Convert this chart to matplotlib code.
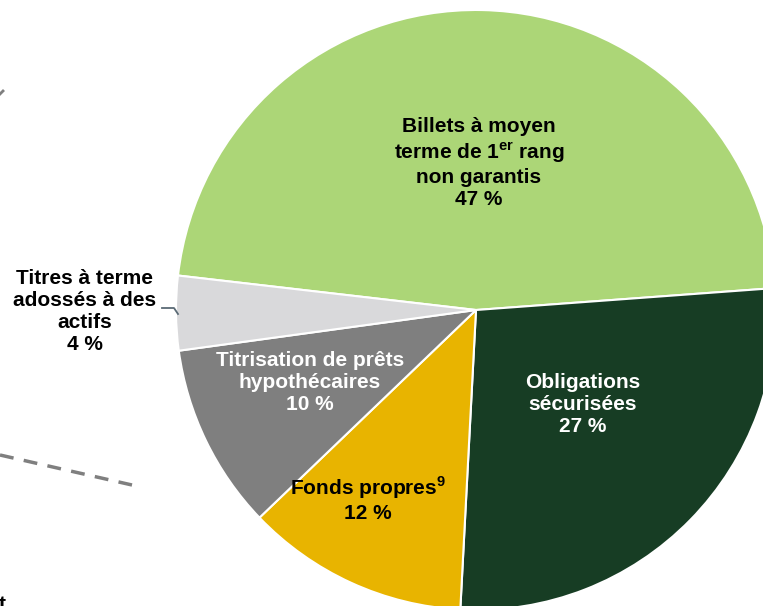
import matplotlib.pyplot as plt

plt.rcParams['font.family'] = ['Liberation Sans', 'DejaVu Sans']
plt.rcParams['mathtext.fontset'] = 'custom'
plt.rcParams['mathtext.bf'] = 'Liberation Sans:bold'
plt.rcParams['mathtext.rm'] = 'Liberation Sans:bold'

labels = ["Billets à moyen\nterme de 1$^{\\mathbf{er}}$ rang\nnon garantis\n47 %",
          "Obligations\nsécurisées\n27 %",
          "Fonds propres$^{\\mathbf{9}}$\n12 %",
          "Titrisation de prêts\nhypothécaires\n10 %",
          "Titres à terme\nadossés à des\nactifs\n4 %"]
shares = [47, 27, 12, 10, 4]
colors = ["#acd677", "#173d24", "#e8b400", "#7f7f7f", "#d9d9db"]
text_colors = ["black", "white", "black", "white", "black"]

W, H = 763, 606
fig = plt.figure(figsize=(W / 100, H / 100), dpi=100)
ax = fig.add_axes([0, 0, 1, 1])

cx, cy, r = 476, H - 310, 300
ax.pie(shares, colors=colors, startangle=173.4, counterclock=False,
       center=(cx, cy), radius=r,
       wedgeprops=dict(edgecolor="white", linewidth=1.5))
ax.set_xlim(0, W)
ax.set_ylim(0, H)
ax.set_aspect("equal")
ax.axis("off")

# label positions (pixel coords, from top)
pos = [(479, 163), (583, 404), (368, 499), (310, 383), (85, 312)]
for lab, (x, y), tc in zip(labels, pos, text_colors):
    ax.text(x, H - y, lab, ha="center", va="center", color=tc,
            fontsize=15, fontweight="bold", linespacing=1.2)

# leader line for the small slice
ax.plot([162, 174, 178], [H - 308, H - 308, H - 314], color="#5a6a75", lw=1.3)

# fragments of neighbouring graphics
ax.plot([0, 132], [H - 455, H - 485], color="#7f7f7f", lw=2.5, ls=(0, (4, 3)))
ax.plot([-2, 3], [H - 96, H - 91], color="#7f7f7f", lw=2)
ax.text(-1, H - 610, "t", ha="left", va="baseline", fontsize=15,
        fontweight="bold", color="black")

fig.savefig("out.png", dpi=100)
